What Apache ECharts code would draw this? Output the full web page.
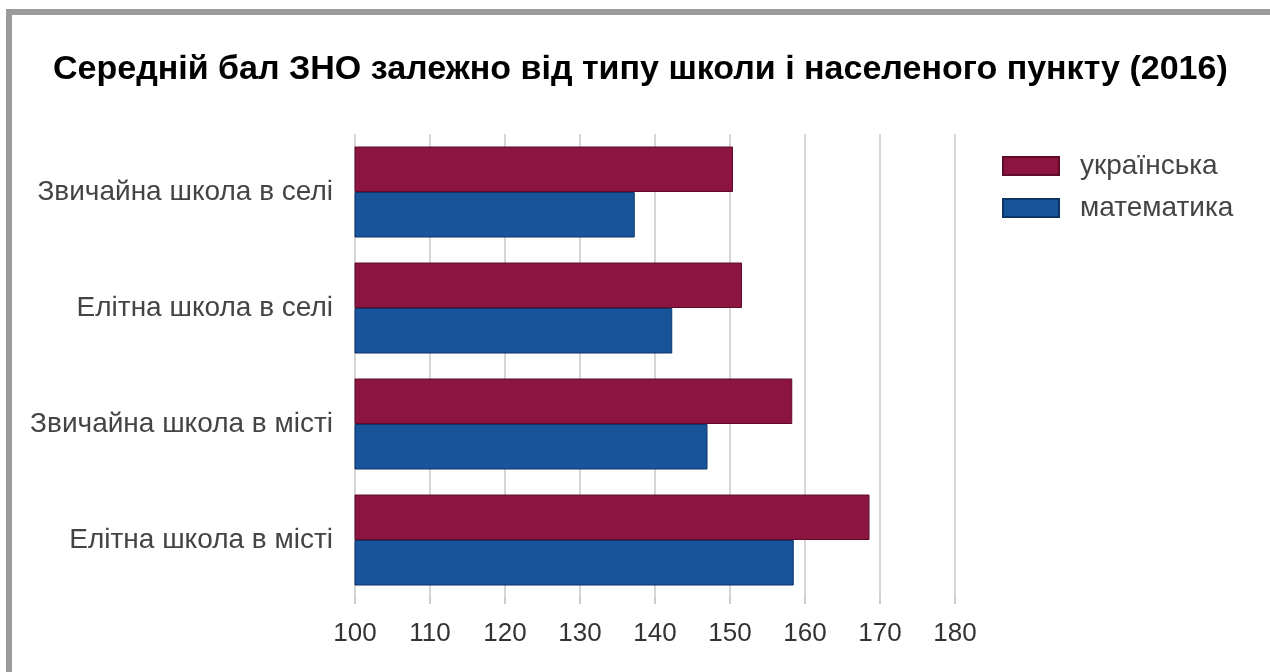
<!DOCTYPE html>
<html>
<head>
<meta charset="utf-8">
<script src="https://cdn.jsdelivr.net/npm/echarts@6/dist/echarts.min.js"></script>
<style>
html,body{margin:0;padding:0;background:#fff;}
#chart{width:1270px;height:672px;}
</style>
</head>
<body>
<div id="chart"></div>
<script>
const title = 'Середній бал ЗНО залежно від типу школи і населеного пункту (2016)';
const categories = ['Звичайна школа в селі', 'Елітна школа в селі', 'Звичайна школа в місті', 'Елітна школа в місті'];
const seriesNames = ['українська', 'математика'];
const ukrValues = [150.4, 151.6, 158.3, 168.6];
const mathValues = [137.3, 142.3, 147.0, 158.5];
const xTicks = [100, 110, 120, 130, 140, 150, 160, 170, 180];

const FONT = '"Liberation Sans", Arial, sans-serif';
const chart = echarts.init(document.getElementById('chart'));
chart.setOption({
  animation: false,
  backgroundColor: '#ffffff',
  title: {
    text: title,
    left: 48,
    top: 48,
    textStyle: { fontFamily: FONT, fontSize: 34, fontWeight: 'bold', color: '#000' }
  },
  legend: {
    orient: 'vertical',
    left: 997,
    top: 147,
    itemWidth: 56,
    itemHeight: 18,
    itemGap: 14,
    icon: 'rect',
    data: seriesNames,
    textStyle: { fontFamily: FONT, fontSize: 28, color: '#444', padding: [0, 0, 0, 16] }
  },
  grid: { left: 355, right: 315, top: 134, height: 464, containLabel: false },
  xAxis: {
    type: 'value',
    min: xTicks[0],
    max: xTicks[xTicks.length - 1],
    interval: 10,
    axisLine: { show: false },
    axisTick: { show: true, length: 6, lineStyle: { color: '#bbb', width: 1.5 } },
    splitLine: { show: true, lineStyle: { color: '#c8c8c8', width: 1.5 } },
    axisLabel: { fontFamily: FONT, fontSize: 26, color: '#333', margin: 23 }
  },
  yAxis: {
    type: 'category',
    inverse: true,
    data: categories,
    axisLine: { show: false },
    axisTick: { show: false },
    axisLabel: { fontFamily: FONT, fontSize: 28, color: '#444', margin: 22 }
  },
  series: [
    {
      name: seriesNames[0], type: 'bar', data: ukrValues,
      barWidth: 45.5, barGap: '0%', barCategoryGap: '21.5%',
      itemStyle: { color: '#8c1441', borderColor: '#5e0c2a', borderWidth: 1 }
    },
    {
      name: seriesNames[1], type: 'bar', data: mathValues,
      barWidth: 45.5, barGap: '0%', barCategoryGap: '21.5%',
      itemStyle: { color: '#17549a', borderColor: '#0d3566', borderWidth: 1 }
    }
  ],
  graphic: [
    { type: 'rect', shape: { x: 6, y: 9, width: 1264, height: 6 }, style: { fill: '#9b9b9b' }, silent: true },
    { type: 'rect', shape: { x: 6, y: 9, width: 6, height: 663 }, style: { fill: '#9b9b9b' }, silent: true }
  ]
});
</script>
</body>
</html>
